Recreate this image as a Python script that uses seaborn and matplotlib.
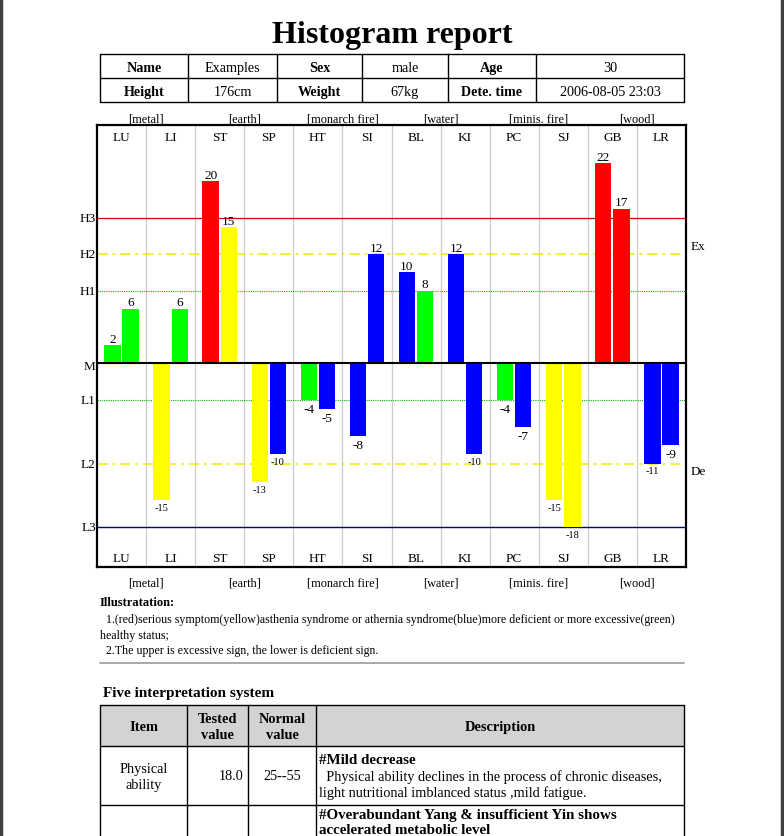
import numpy as np
import pandas as pd
import matplotlib
matplotlib.use('Agg')
import matplotlib.pyplot as plt
import seaborn as sns
from matplotlib.patches import Rectangle

W, H = 784, 837

# ── data ────────────────────────────────────────────────
meridians = ['LU', 'LI', 'ST', 'SP', 'HT', 'SI', 'BL', 'KI', 'PC', 'SJ', 'GB', 'LR']
left_values = [2, -15, 20, -13, -4, -8, 10, 12, -4, -15, 22, -11]
right_values = [6, 6, 15, -10, -5, 12, 8, -10, -7, -18, 17, -9]
elements = ['[metal]', '[earth]', '[monarch fire]', '[water]', '[minis. fire]', '[wood]']
upper_names = ['H1', 'H2', 'H3']
upper_levels = [8, 12, 16]
lower_names = ['L1', 'L2', 'L3']
lower_levels = [-4, -11, -18]

info_rows = [['Name', 'Examples', 'Sex', 'male', 'Age', '30'],
             ['Height', '176cm', 'Weight', '67kg', 'Dete. time', '2006-08-05 23:03']]
legend_lines = ['  1.(red)serious symptom(yellow)asthenia syndrome or athernia syndrome(blue)more deficient or more excessive(green)',
                'healthy status;',
                '  2.The upper is excessive sign, the lower is deficient sign.']
table_header = ['Item', 'Tested\nvalue', 'Normal\nvalue', 'Description']
row_item = 'Physical\nability'
row_tested = '18.0'
row_normal = '25--55'
row_desc_title = '#Mild decrease'
row_desc_lines = ['  Physical ability declines in the process of chronic diseases,',
                  'light nutritional imblanced status ,mild fatigue.']
next_desc_lines = ['#Overabundant Yang & insufficient Yin shows', 'accelerated metabolic level']


def bar_color(v):
    h1, h2, h3 = upper_levels
    l1, l2, l3 = lower_levels
    if v >= 0:
        if v <= h1:
            return '#00ff00'
        if v <= h2:
            return '#0000ff'
        if v <= h3:
            return '#ffff00'
        return '#ff0000'
    if v >= l1:
        return '#00ff00'
    if v >= l2:
        return '#0000ff'
    if v >= l3:
        return '#ffff00'
    return '#ff0000'


sns.set_style('white')
plt.rcParams['font.family'] = ['Liberation Serif', 'DejaVu Serif']
plt.rcParams['text.color'] = 'black'

fig = plt.figure(figsize=(W / 100, H / 100), dpi=100)

# page background axes in pixel coords
bg = fig.add_axes([0, 0, 1, 1])
bg.set_xlim(0, W)
bg.set_ylim(H, 0)
bg.axis('off')

bg.add_patch(Rectangle((0, 0), 1.6, H, color='#404040'))
bg.add_patch(Rectangle((781.5, 0), 2.5, H, color='#404040'))

bg.text(392, 35, 'Histogram report', ha='center', va='center', fontsize=23, fontweight='bold')

# info table
cols = [100, 188, 277, 362, 448, 536, 684]
rows = [55, 79, 103]
for x in cols:
    bg.plot([x, x], [rows[0], rows[-1]], color='black', lw=1)
for y in rows:
    bg.plot([cols[0], cols[-1]], [y, y], color='black', lw=1)
for r, row in enumerate(info_rows):
    for c, txt in enumerate(row):
        bg.text((cols[c] + cols[c + 1]) / 2, (rows[r] + rows[r + 1]) / 2 + 1, txt,
                ha='center', va='center', fontsize=10.2,
                fontweight='bold' if c % 2 == 0 else 'normal')

# legend / illustration
bg.text(100, 603, 'Illustratation:', ha='left', va='center', fontsize=9, fontweight='bold')
for i, line in enumerate(legend_lines):
    bg.text(100, 620 + i * 15.5, line, ha='left', va='center', fontsize=8.6)
bg.plot([100, 684], [664, 664], color='#999999', lw=1.2)

bg.text(103, 693, 'Five interpretation system', ha='left', va='center', fontsize=11, fontweight='bold')

# interpretation table
tcols = [100, 187, 248, 316, 684]
trows = [706, 747, 806, 845]
bg.add_patch(Rectangle((100, 706), 584, 41, facecolor='#d3d3d3', edgecolor='none'))
for x in tcols:
    bg.plot([x, x], [trows[0], trows[-1]], color='black', lw=1)
for y in trows[:-1]:
    bg.plot([tcols[0], tcols[-1]], [y, y], color='black', lw=1)
for c, txt in enumerate(table_header):
    bg.text((tcols[c] + tcols[c + 1]) / 2, 727.5, txt, ha='center', va='center',
            fontsize=10.4, fontweight='bold', linespacing=1.3)
bg.text(143.5, 778, row_item, ha='center', va='center', fontsize=10.3, linespacing=1.3)
bg.text(244, 777, row_tested, ha='right', va='center', fontsize=10.3)
bg.text(282, 777, row_normal, ha='center', va='center', fontsize=10.3)
bg.text(319, 760, row_desc_title, ha='left', va='center', fontsize=10.8, fontweight='bold')
for i, line in enumerate(row_desc_lines):
    bg.text(319, 777 + i * 16.5, line, ha='left', va='center', fontsize=10.3)
for i, line in enumerate(next_desc_lines):
    bg.text(319, 816 + i * 14.5, line, ha='left', va='center', fontsize=10.8, fontweight='bold')

# ── histogram chart ─────────────────────────────────────
ax = fig.add_axes([97 / W, (H - 567.7) / H, 589 / W, 442 / H])
df = pd.DataFrame({
    'meridian': meridians * 2,
    'side': ['L'] * len(meridians) + ['R'] * len(meridians),
    'value': left_values + right_values,
})
sns.barplot(data=df, x='meridian', y='value', hue='side', order=meridians,
            hue_order=['L', 'R'], width=0.74, gap=0.1, errorbar=None,
            legend=False, ax=ax, zorder=2)

for p in ax.patches:
    v = p.get_height()
    p.set_facecolor(bar_color(v))
    p.set_edgecolor('none')
    xc = p.get_x() + p.get_width() / 2
    if v > 0:
        ax.text(xc, v + 0.05, f'{int(round(v))}', ha='center', va='bottom', fontsize=9.5)
    else:
        fs = 7.5 if abs(v) >= 10 else 9.5
        ax.text(xc, v - 0.3, f'{int(round(v))}', ha='center', va='top', fontsize=fs)

ax.set_xlim(-0.5, len(meridians) - 0.5)
ax.set_ylim(-22.33, 26.24)
ax.set_xticks([])
ax.set_yticks([])
ax.set_xlabel('')
ax.set_ylabel('')
for s in ax.spines.values():
    s.set_linewidth(1.6)
    s.set_color('black')

for b in np.arange(0.5, len(meridians) - 0.5, 1):
    ax.axvline(b, color='#cccccc', lw=0.9, zorder=0.5)

ax.axhline(upper_levels[2], color='#dd0000', lw=0.9, zorder=1)
ax.axhline(upper_levels[1], color='#eeee00', lw=1.1, ls=(0, (7, 3, 2, 3)), zorder=1)
ax.axhline(upper_levels[0], color='#00bb00', lw=0.8, ls=(0, (1, 1)), zorder=1)
ax.axhline(lower_levels[0], color='#00bb00', lw=0.8, ls=(0, (1, 1)), zorder=1)
ax.axhline(lower_levels[1], color='#eeee00', lw=1.1, ls=(0, (7, 3, 2, 3)), zorder=1)
ax.axhline(lower_levels[2], color='#000080', lw=1.0, zorder=1)
ax.axhline(0, color='black', lw=1.5, zorder=3)

for i, m in enumerate(meridians):
    ax.text(i, 24.9, m, ha='center', va='center', fontsize=9.5)
    ax.text(i, -21.4, m, ha='center', va='center', fontsize=9.5)

xtr = ax.get_xaxis_transform()
for k, e in enumerate(elements):
    ax.text(0.5 + 2 * k, 1.015, e, transform=xtr, ha='center', va='center', fontsize=8.8, clip_on=False)
    ax.text(0.5 + 2 * k, -0.035, e, transform=xtr, ha='center', va='center', fontsize=8.8, clip_on=False)

ytr = ax.get_yaxis_transform()
for name, lv in zip(upper_names + ['M'] + lower_names, upper_levels + [-0.3] + lower_levels):
    ax.text(-0.002, lv, name, transform=ytr, ha='right', va='center', fontsize=9.5, clip_on=False)
ax.text(1.008, 12.9, 'Ex', transform=ytr, ha='left', va='center', fontsize=9.5, clip_on=False)
ax.text(1.008, -11.8, 'De', transform=ytr, ha='left', va='center', fontsize=9.5, clip_on=False)

fig.savefig('out.png', dpi=100, facecolor='white')
